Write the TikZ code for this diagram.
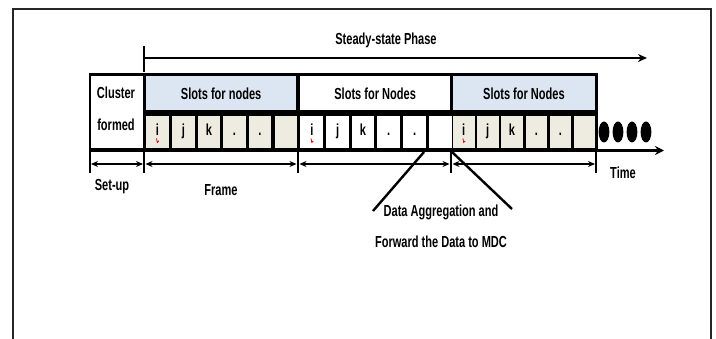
\documentclass[tikz,border=0pt]{standalone}
\usepackage{fontspec}
\setmainfont{Liberation Sans}
\newfontfamily\narrowbf[FakeStretch=0.69]{Liberation Sans}
\usetikzlibrary{arrows.meta}
\definecolor{hdrblue}{HTML}{DCE6F2}
\definecolor{slotbeige}{HTML}{EEECE1}
\begin{document}
\begin{tikzpicture}[x=1pt,y=-1pt,
  lbl/.style={font=\narrowbf\bfseries\fontsize{16}{18}\selectfont, inner sep=0pt},
  hdr/.style={anchor=north west, inner sep=0pt, minimum height=34pt},
  slot/.style={anchor=north west, inner sep=0pt, minimum width=22.8pt, minimum height=32pt,
    text height=11.5pt, text depth=3.5pt,
    font=\narrowbf\bfseries\fontsize{16}{18}\selectfont},
  tick/.style={line width=1.8pt},
  span/.style={line width=1.8pt, {Stealth[length=7pt,width=6pt]}-{Stealth[length=7pt,width=6pt]}},
  lead/.style={line width=2.4pt}]
\useasboundingbox (0,0) rectangle (716,339);
% page frame
\draw[line width=1.6pt, black!85] (13,339) -- (13,9) -- (711,9) -- (711,339);

% steady-state phase arrow
\coordinate (ssL) at (144,58);
\coordinate (ssR) at (647,58);
\draw[line width=1.8pt] (144,46) -- (144,72);
\draw[line width=2.6pt, -{Stealth[length=9pt,width=8pt]}] (ssL) -- (ssR);
\node[lbl] (ss) at (386,40) {Steady-state Phase};

% frame body (black backdrop forms the grid lines)
\fill[black] (88.5,73) rectangle (598,152);

% cluster cell
\node[anchor=north west, fill=white, inner sep=0pt, minimum width=51.5pt, minimum height=72pt] (cl) at (91.2,76.2) {};
\node[lbl] (cl1) at (116,93) {Cluster};
\node[lbl] (cl2) at (116,125) {formed};

% header cells
\node[hdr, fill=hdrblue, minimum width=150.5pt] (h1) at (145.7,76.2) {};
\node[hdr, fill=white, minimum width=149.5pt] (h2) at (300.2,76.2) {};
\node[hdr, fill=hdrblue, minimum width=141.5pt] (h3) at (453,76.2) {};
\node[lbl] at (h1.center) {Slots for nodes};
\node[lbl] at (h2.center) {Slots for Nodes};
\node[lbl] at (h3.center) {Slots for Nodes};

% slot cells
\foreach \x/\t [count=\n] in {145.7/i,171.7/j,197.3/k,222.7/.,248.3/.,274.3/}
  \node[slot, fill=slotbeige] (a\n) at (\x,115.7) {\t};
\foreach \x/\t [count=\n] in {300.2/i,326/j,351.3/k,377/.,403/.,429/}
  \node[slot, fill=white] (b\n) at (\x,115.7) {\t};
\foreach \x/\t [count=\n] in {452.7/i,476.7/j,501/k,525.3/.,549.3/.,573.3/}
  \node[slot, fill=slotbeige, minimum width=21.6pt] (c\n) at (\x,115.7) {\t};
% spell-check marks under the i's
\foreach \c in {a1,b1,c1}
  \draw[red!85!black, line width=0.8pt] ([xshift=-0.8pt,yshift=-6.5pt]\c.center) -- ++(0.8,4) -- ++(1.6,-1.5);

% continuation dots
\foreach \x [count=\n] in {604,618,632,646}
  \fill (\x,132) ellipse (5.4pt and 10.5pt);

% time axis
\coordinate (tL) at (596,150.5);
\coordinate (tR) at (664,150.5);
\draw[line width=3.2pt, -{Stealth[length=9pt,width=9pt]}] (tL) -- (tR);
\node[lbl] (time) at (623,173) {Time};

% frame / set-up spans
\foreach \x in {90,144,298,451,596}
  \draw[tick] (\x,152) -- (\x,173);
\coordinate (s0) at (91,164);
\coordinate (s1) at (143,164);
\coordinate (s2) at (145.5,164);
\coordinate (s3) at (296.5,164);
\coordinate (s4) at (299.5,164);
\coordinate (s5) at (449.5,164);
\coordinate (s6) at (452.5,164);
\coordinate (s7) at (595,164);
\draw[span] (s0) -- (s1);
\draw[span] (s2) -- (s3);
\draw[span] (s4) -- (s5);
\draw[span] (s6) -- (s7);
\node[lbl] (setup) at (112,187) {Set-up};
\node[lbl] (frame) at (221,190) {Frame};

% aggregation callout
\node[lbl] (dag1) at (441,212) {Data Aggregation and};
\node[lbl] (dag2) at (441,242) {Forward the Data to MDC};
\coordinate (p1) at (424,152);
\coordinate (q1) at (373,211);
\coordinate (p2) at (452,152);
\coordinate (q2) at (512,209);
\draw[lead] (p1) -- (q1);
\draw[lead] (p2) -- (q2);
\end{tikzpicture}
\end{document}
